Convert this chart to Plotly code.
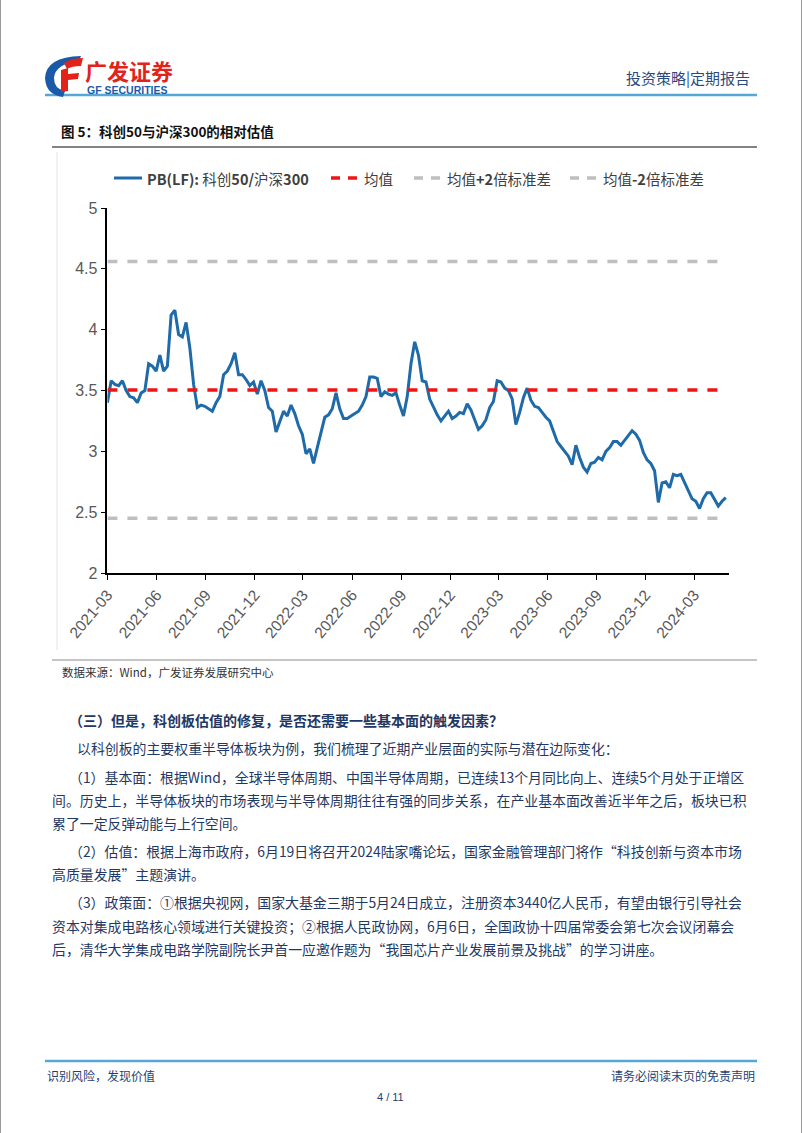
import plotly.graph_objects as go
import pandas as pd

W, H = 802, 1133

# ---------------- data ----------------
START_DATE = '2021-03-01'
PB_LF = [3.40, 3.58, 3.55, 3.54, 3.58, 3.50, 3.45, 3.44, 3.40, 3.48,
         3.50, 3.72, 3.70, 3.66, 3.79, 3.66, 3.70, 4.12, 4.16, 3.96,
         3.94, 4.06, 3.85, 3.55, 3.36, 3.38, 3.37, 3.35, 3.33, 3.40,
         3.45, 3.63, 3.66, 3.72, 3.81, 3.63, 3.63, 3.59, 3.54, 3.57,
         3.47, 3.58, 3.50, 3.36, 3.33, 3.16, 3.25, 3.33, 3.29, 3.38,
         3.31, 3.21, 3.14, 2.98, 3.02, 2.90, 3.03, 3.16, 3.28, 3.30,
         3.35, 3.48, 3.35, 3.27, 3.27, 3.29, 3.31, 3.33, 3.38, 3.45,
         3.61, 3.61, 3.60, 3.45, 3.49, 3.47, 3.46, 3.48, 3.38, 3.29,
         3.45, 3.72, 3.90, 3.79, 3.58, 3.57, 3.43, 3.36, 3.30, 3.25,
         3.29, 3.33, 3.27, 3.29, 3.32, 3.31, 3.39, 3.34, 3.26, 3.18,
         3.21, 3.26, 3.36, 3.41, 3.58, 3.57, 3.52, 3.50, 3.43, 3.22,
         3.32, 3.44, 3.52, 3.42, 3.37, 3.36, 3.32, 3.28, 3.25, 3.16,
         3.08, 3.04, 3.00, 2.96, 2.89, 3.05, 2.95, 2.87, 2.83, 2.90,
         2.91, 2.95, 2.93, 3.00, 3.03, 3.08, 3.08, 3.05, 3.09, 3.13,
         3.17, 3.14, 3.09, 2.99, 2.93, 2.90, 2.84, 2.58, 2.74, 2.75,
         2.70, 2.81, 2.80, 2.81, 2.74, 2.68, 2.61, 2.59, 2.53, 2.61,
         2.66, 2.66, 2.60, 2.55, 2.59, 2.62]
MEAN = 3.505
STD = 0.5275
UPPER = MEAN + 2 * STD
LOWER = MEAN - 2 * STD

dates = pd.date_range(START_DATE, periods=len(PB_LF), freq='7D')
TICK_DATES = pd.date_range('2021-03-01', '2024-03-01', freq='3MS')
TICK_LABELS = [d.strftime('%Y-%m') for d in TICK_DATES]
Y_TICKS = [2, 2.5, 3, 3.5, 4, 4.5, 5]
X_RANGE = ['2021-03-01', '2024-05-05']

SERIES_NAMES = ['PB(LF): 科创50/沪深300', '均值', '均值+2倍标准差', '均值-2倍标准差']

# ---------------- styles ----------------
CJK = 'Noto Sans CJK SC'
LATIN = 'Liberation Sans, Arial, sans-serif'
BLUE = '#1f6aa8'
RED = '#f01414'
GRAY = '#bfbfbf'
NAVY = '#1f3864'
HEAD_BLUE = '#55a8d5'


def px(x):
    return x / W


def py(y):
    return 1 - y / H


def conv(d):
    out, nums = [], []
    for t in d.split():
        if t.isalpha():
            out.append(t)
        else:
            nums.append(float(t))
            if len(nums) == 2:
                out.append(f"{px(nums[0]):.5f},{py(nums[1]):.5f}")
                nums = []
    return ' '.join(out)


fig = go.Figure()

fig.add_trace(go.Scatter(x=dates, y=PB_LF, mode='lines', name=SERIES_NAMES[0],
                         line=dict(color=BLUE, width=3)))
fig.add_trace(go.Scatter(x=[dates[0], dates[-1]], y=[MEAN, MEAN], mode='lines',
                         name=SERIES_NAMES[1],
                         line=dict(color=RED, width=3.5, dash='10px,10px')))
fig.add_trace(go.Scatter(x=[dates[0], dates[-1]], y=[UPPER, UPPER], mode='lines',
                         name=SERIES_NAMES[2],
                         line=dict(color=GRAY, width=3.5, dash='10px,10px')))
fig.add_trace(go.Scatter(x=[dates[0], dates[-1]], y=[LOWER, LOWER], mode='lines',
                         name=SERIES_NAMES[3],
                         line=dict(color=GRAY, width=3.5, dash='10px,10px')))

fig.update_layout(
    width=W, height=H,
    autosize=False,
    margin=dict(l=0, r=0, t=0, b=0, pad=0, autoexpand=False),
    paper_bgcolor='white', plot_bgcolor='white',
    showlegend=False,
    xaxis=dict(domain=[px(107.4), px(729)], type='date', range=X_RANGE,
               automargin=False,
               tickvals=TICK_DATES, ticktext=TICK_LABELS, tickangle=-50,
               ticks='outside', ticklen=5, tickcolor='black', tickwidth=1,
               showline=True, linecolor='black', linewidth=1.5,
               showgrid=False, zeroline=False,
               tickfont=dict(family=LATIN, size=15.5, color='#595959')),
    yaxis=dict(domain=[py(573), py(208)], range=[2, 5], tickvals=Y_TICKS,
               automargin=False,
               ticks='outside', ticklen=5, tickcolor='black', tickwidth=1,
               showline=True, linecolor='black', linewidth=1.5,
               showgrid=False, zeroline=False,
               tickfont=dict(family=LATIN, size=16, color='#595959')),
)

shapes = []


def hline(x0, x1, y, color, width, dash='solid'):
    shapes.append(dict(type='line', xref='paper', yref='paper', x0=px(x0), x1=px(x1),
                       y0=py(y), y1=py(y), line=dict(color=color, width=width, dash=dash)))


def vline(x, y0, y1, color, width):
    shapes.append(dict(type='line', xref='paper', yref='paper', x0=px(x), x1=px(x),
                       y0=py(y0), y1=py(y1), line=dict(color=color, width=width)))


# page edges
vline(0.5, 0, H, '#9a9a9a', 1)
vline(801.5, 0, H, '#9a9a9a', 1)

# header
hline(45, 757, 95, HEAD_BLUE, 2.5)
# logo
shapes.append(dict(type='path', xref='paper', yref='paper',
                   path=conv('M 81 56 Q 46 57 45 78 Q 46 95 63 97 L 65 91 Q 54 89 54 78 Q 55 64 79 61 Z'),
                   fillcolor='#1a5aa8', line=dict(width=0)))
shapes.append(dict(type='path', xref='paper', yref='paper',
                   path=conv('M 64 63 Q 72 58 83 58 L 81 66 Q 72 66 67 69 Z'),
                   fillcolor='#e2231a', line=dict(width=0)))
shapes.append(dict(type='path', xref='paper', yref='paper',
                   path=conv('M 61 70 L 68 68 L 68 91 L 61 92 Z'),
                   fillcolor='#e2231a', line=dict(width=0)))
shapes.append(dict(type='path', xref='paper', yref='paper',
                   path=conv('M 68 74 L 79 73 L 78 79 L 68 80 Z'),
                   fillcolor='#e2231a', line=dict(width=0)))

# figure title underline
hline(52, 757, 147, '#595959', 1.5)
# faint chart frame edge
vline(57, 152, 650, '#e4e4e4', 1)
# source separator
hline(52, 757, 660, '#8c8c8c', 1)
# footer
hline(45, 757, 1061, HEAD_BLUE, 2.5)

# legend samples
LEG_Y = 178
hline(114, 142, LEG_Y, BLUE, 3)
hline(331, 359, LEG_Y, RED, 3.5, '9px,8px')
hline(414, 442, LEG_Y, GRAY, 3.5, '9px,8px')
hline(570, 598, LEG_Y, GRAY, 3.5, '9px,8px')

fig.update_layout(shapes=shapes)


def txt(x, y, s, size=14, color=NAVY, anchor='left', bold=False, family=CJK):
    fig.add_annotation(x=px(x), y=py(y), xref='paper', yref='paper', text=s,
                       xanchor=anchor, yanchor='middle', showarrow=False,
                       font=dict(size=size, color=color, family=family,
                                 weight='bold' if bold else 'normal'))


# header texts
txt(83, 70, '广发证券', size=22, color='#e2231a', bold=True)
txt(85, 89.5, 'GF SECURITIES', size=10.5, color='#1d5aa6', bold=True, family=LATIN)
txt(752, 78, '投资策略|定期报告', size=15, color='#2a4a7f', anchor='right')

# figure title
txt(59, 131, '图 5：科创50与沪深300的相对估值', size=13.5, color='#111111', bold=True)

# legend texts
LEG_C = '#404040'
txt(145, LEG_Y, '<b>PB(LF):</b> 科创<b>50/</b>沪深<b>300</b>', size=14.5, color=LEG_C)
txt(362, LEG_Y, SERIES_NAMES[1], size=14.5, color=LEG_C)
txt(445, LEG_Y, '均值<b>+2</b>倍标准差', size=14.5, color=LEG_C)
txt(601, LEG_Y, '均值<b>-2</b>倍标准差', size=14.5, color=LEG_C)

# source
txt(60, 672, '数据来源：Wind，广发证券发展研究中心', size=11.5, color='#333333')

# body
HEADING = '（三）但是，科创板估值的修复，是否还需要一些基本面的触发因素？'
LINE_INTRO = '以科创板的主要权重半导体板块为例，我们梳理了近期产业层面的实际与潜在边际变化：'
PARA1 = ['（1）基本面：根据Wind，全球半导体周期、中国半导体周期，已连续13个月同比向上、连续5个月处于正增区',
         '间。历史上，半导体板块的市场表现与半导体周期往往有强的同步关系，在产业基本面改善近半年之后，板块已积',
         '累了一定反弹动能与上行空间。']
PARA2 = ['（2）估值：根据上海市政府，6月19日将召开2024陆家嘴论坛，国家金融管理部门将作“科技创新与资本市场',
         '高质量发展”主题演讲。']
PARA3 = ['（3）政策面：①根据央视网，国家大基金三期于5月24日成立，注册资本3440亿人民币，有望由银行引导社会',
         '资本对集成电路核心领域进行关键投资；②根据人民政协网，6月6日，全国政协十四届常委会第七次会议闭幕会',
         '后，清华大学集成电路学院副院长尹首一应邀作题为“我国芯片产业发展前景及挑战”的学习讲座。']

BODY = 13.9
txt(67, 720, HEADING, size=14, color=NAVY, bold=True)
txt(75, 748, LINE_INTRO, size=BODY)
for i, (s, y) in enumerate(zip(PARA1, [777, 800, 823])):
    txt(67 if i == 0 else 50, y, s, size=BODY)
for i, (s, y) in enumerate(zip(PARA2, [851, 874])):
    txt(67 if i == 0 else 50, y, s, size=BODY)
for i, (s, y) in enumerate(zip(PARA3, [902, 926, 949])):
    txt(67 if i == 0 else 50, y, s, size=BODY)

# footer texts
txt(45, 1075, '识别风险，发现价值', size=12, color='#1f3f75')
txt(757, 1075, '请务必阅读末页的免责声明', size=12, color='#1f3f75', anchor='right')
txt(390, 1097, '4 / 11', size=11, color='#1f3f75', anchor='center', family=LATIN)

fig.write_html('out.html')
